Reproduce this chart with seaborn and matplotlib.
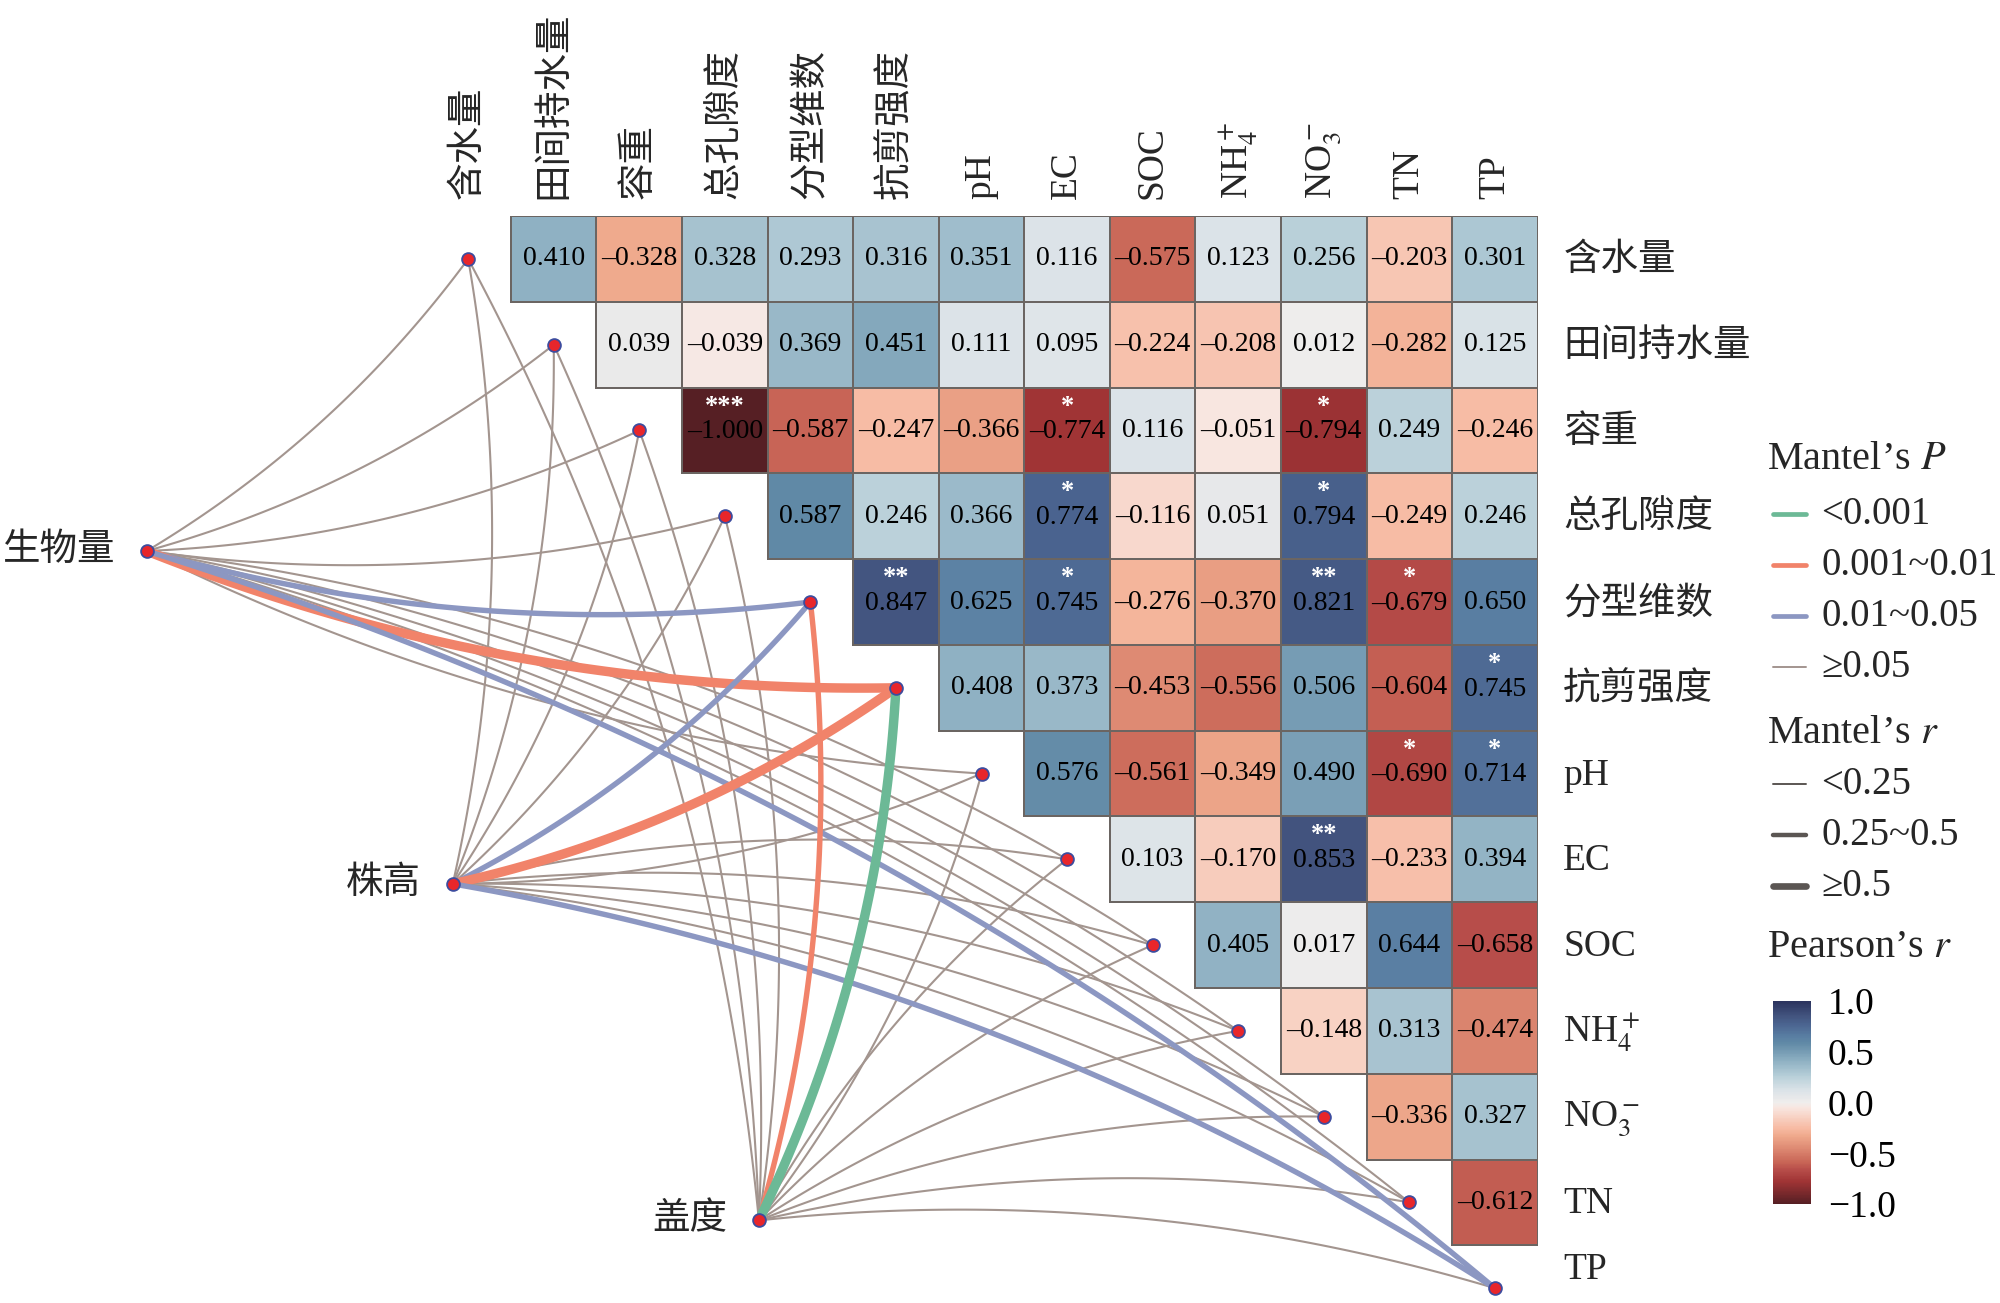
import numpy as np
import pandas as pd
import seaborn as sns
import matplotlib as mpl
import matplotlib.pyplot as plt
from matplotlib.colors import LinearSegmentedColormap, to_rgba
from matplotlib.lines import Line2D

sns.set_theme(style="white")
plt.rcParams['font.family'] = ['Liberation Serif', 'Noto Sans CJK SC', 'DejaVu Sans']
plt.rcParams['mathtext.fontset'] = 'stix'

# ---------------- data ----------------
variables = ['含水量', '田间持水量', '容重', '总孔隙度', '分型维数', '抗剪强度', 'pH', 'EC',
             'SOC', r'NH$_4^+$', r'NO$_3^-$', 'TN', 'TP']

# Pearson's r, upper triangle (row i, columns i+1 ... 12)
r_water = [0.410, -0.328, 0.328, 0.293, 0.316, 0.351, 0.116, -0.575, 0.123, 0.256, -0.203, 0.301]
r_fieldcap = [0.039, -0.039, 0.369, 0.451, 0.111, 0.095, -0.224, -0.208, 0.012, -0.282, 0.125]
r_bulk = [-1.000, -0.587, -0.247, -0.366, -0.774, 0.116, -0.051, -0.794, 0.249, -0.246]
r_poro = [0.587, 0.246, 0.366, 0.774, -0.116, 0.051, 0.794, -0.249, 0.246]
r_fractal = [0.847, 0.625, 0.745, -0.276, -0.370, 0.821, -0.679, 0.650]
r_shear = [0.408, 0.373, -0.453, -0.556, 0.506, -0.604, 0.745]
r_ph = [0.576, -0.561, -0.349, 0.490, -0.690, 0.714]
r_ec = [0.103, -0.170, 0.853, -0.233, 0.394]
r_soc = [0.405, 0.017, 0.644, -0.658]
r_nh4 = [-0.148, 0.313, -0.474]
r_no3 = [-0.336, 0.327]
r_tn = [-0.612]

# significance stars: (row, column, label)
star_cells = [(2, 3, '***'), (2, 7, '*'), (2, 10, '*'),
              (3, 7, '*'), (3, 10, '*'),
              (4, 5, '**'), (4, 7, '*'), (4, 10, '**'), (4, 11, '*'),
              (5, 12, '*'),
              (6, 11, '*'), (6, 12, '*'),
              (7, 10, '**')]

bio_vars = ['生物量', '株高', '盖度']
NS, P3, P2, P1 = '≥0.05', '0.01~0.05', '0.001~0.01', '<0.001'
S, M, L = '<0.25', '0.25~0.5', '≥0.5'
mantel_p_biomass = [NS, NS, NS, NS, P3, P2, NS, NS, NS, NS, NS, NS, P3]
mantel_p_height = [NS, NS, NS, NS, P3, P2, NS, NS, NS, NS, NS, NS, P3]
mantel_p_cover = [NS, NS, NS, NS, P2, P1, NS, NS, NS, NS, NS, NS, NS]
mantel_r_biomass = [S, S, S, S, M, L, S, S, S, S, S, S, M]
mantel_r_height = [S, S, S, S, M, L, S, S, S, S, S, S, M]
mantel_r_cover = [S, S, S, S, M, L, S, S, S, S, S, S, S]

p_levels = [P1, P2, P3, NS]
r_levels = [S, M, L]

# ---------------- styles ----------------
p_colors = {P1: '#6cb996', P2: '#f1836a', P3: '#8c97c2', NS: '#a3958f'}
r_widths = {S: 1.5, M: 3.9, L: 6.8}
r_legend_widths = {S: 1.4, M: 3.2, L: 4.8}
cmap = LinearSegmentedColormap.from_list('pearson', [
    (0.000, '#561f24'), (0.110, '#a03435'), (0.170, '#b84e4a'), (0.205, '#c86556'),
    (0.275, '#de8a73'), (0.335, '#efa98c'), (0.375, '#f7bba4'), (0.475, '#f8e6e0'),
    (0.500, '#f0eeed'), (0.520, '#e9e9ea'), (0.560, '#dbe3e8'), (0.625, '#bad1da'),
    (0.705, '#8fb1c3'), (0.795, '#6089a6'), (0.825, '#5a7fa3'), (0.885, '#4b6591'),
    (0.925, '#435580'), (1.000, '#2c345f')])

n = len(variables)
rows = [r_water, r_fieldcap, r_bulk, r_poro, r_fractal, r_shear, r_ph, r_ec, r_soc,
        r_nh4, r_no3, r_tn]
mat = np.full((n, n), np.nan)
for i, vals in enumerate(rows):
    mat[i, i + 1:] = vals
df = pd.DataFrame(mat, index=variables, columns=variables)
mask = np.isnan(mat)


def fmt_num(v):
    return f'{v:.3f}'.replace('-', '\u2013')


starred = {(i, j): s for i, j, s in star_cells}
annot = np.full((n, n), '', dtype=object)
for i in range(n):
    for j in range(n):
        if not mask[i, j] and (i, j) not in starred:
            annot[i, j] = fmt_num(mat[i, j])

# ---------------- figure ----------------
W_D, H_D = 1568.0, 1021.6
fig = plt.figure(figsize=(20, 13.03), dpi=100)
fig.patch.set_facecolor('white')
ax = fig.add_axes([333.5 / W_D, 1 - 1043.6 / H_D, 872 / W_D, 874.2 / H_D])

sns.heatmap(df, mask=mask, cmap=cmap, vmin=-1, vmax=1, annot=annot, fmt='',
            annot_kws={'fontsize': 20, 'color': 'black'},
            linewidths=1.4, linecolor='#6b6562', cbar=False,
            xticklabels=False, yticklabels=False, square=False, ax=ax)
mesh = ax.collections[0]
ec = np.array([to_rgba('#6b6562')] * (n * n))
ec[mask.ravel()] = (0, 0, 0, 0)
mesh.set_edgecolor(ec)
ax.set_xlim(0, n)
ax.set_ylim(n, 0)
ax.set_axis_off()

for (i, j), s in starred.items():
    ax.text(j + 0.5, i + 0.5 + 0.015, fmt_num(mat[i, j]), color='black', fontsize=20,
            ha='center', va='center')
    ax.text(j + 0.5, i + 0.5 - 0.285, s, color='white', fontsize=19, fontweight='bold',
            ha='center', va='center')

# column labels (top) and row labels (right)
for j, name in enumerate(variables):
    ax.text(j + 0.5, -0.2, name, rotation=90, ha='center', va='bottom', fontsize=27)
for i, name in enumerate(variables):
    ax.text(n + 0.3, min(i + 0.52, n - 0.72), name, ha='left', va='center', fontsize=27)

# node positions (layout, in cell units)
bio_pos = {'生物量': (-3.257, 3.905), '株高': (0.320, 7.786), '盖度': (3.898, 11.71)}
env_pos = [(k + 0.5, k + 0.5) for k in range(n)]

edge_rows = []
for b, plist, rlist in [('生物量', mantel_p_biomass, mantel_r_biomass),
                        ('株高', mantel_p_height, mantel_r_height),
                        ('盖度', mantel_p_cover, mantel_r_cover)]:
    for k in range(n):
        edge_rows.append({'bio': b, 'env': k, 'p': plist[k], 'r': rlist[k]})
edges = pd.DataFrame(edge_rows)
edges['order'] = (edges['p'] != NS).astype(int)
edges = edges.sort_values('order', kind='stable')

t = np.linspace(0, 1, 80)
for _, e in edges.iterrows():
    p0 = np.array(bio_pos[e['bio']])
    p2 = np.array(env_pos[e['env']])
    d = p2 - p0
    perp = np.array([-d[1], d[0]])
    sgn = 1.0 if e['env'] <= 6 else -1.0
    c = (p0 + p2) / 2 + sgn * 0.10 * perp
    pts = ((1 - t) ** 2)[:, None] * p0 + (2 * (1 - t) * t)[:, None] * c + (t ** 2)[:, None] * p2
    ax.plot(pts[:, 0], pts[:, 1], color=p_colors[e['p']], lw=r_widths[e['r']],
            solid_capstyle='round', clip_on=False, zorder=3 + e['order'])

ex = [p[0] for p in env_pos]
ey = [p[1] for p in env_pos]
ax.scatter(ex, ey, s=85, color='#e8262b', edgecolor='#3d4c9e', linewidth=1.3,
           zorder=6, clip_on=False)
ax.scatter([bio_pos[b][0] for b in bio_vars], [bio_pos[b][1] for b in bio_vars], s=85,
           color='#e8262b', edgecolor='#3d4c9e', linewidth=1.3, zorder=6, clip_on=False)
for b in bio_vars:
    ax.text(bio_pos[b][0] - 0.37, bio_pos[b][1], b, ha='right', va='center', fontsize=27)

# ---------------- legends ----------------
def fx(x):
    return x / W_D


def fy(y):
    return 1 - y / H_D


fig.text(fx(1385), fy(360), 'Mantel\u2019s $\\mathit{P}$', fontsize=29, ha='left', va='center')
for lab, yy in zip(p_levels, [403, 443, 483, 523]):
    fig.add_artist(Line2D([fx(1390), fx(1416)], [fy(yy), fy(yy)], transform=fig.transFigure,
                          color=p_colors[lab], lw=(3.4 if lab != NS else 1.4)))
    fig.text(fx(1428), fy(yy), lab, fontsize=28, ha='left', va='center')

fig.text(fx(1385), fy(575), 'Mantel\u2019s $\\mathit{r}$', fontsize=29, ha='left', va='center')
for lab, yy in zip(r_levels, [615, 655, 695]):
    fig.add_artist(Line2D([fx(1390), fx(1416)], [fy(yy), fy(yy)], transform=fig.transFigure,
                          color='#5b5653', lw=r_legend_widths[lab]))
    fig.text(fx(1428), fy(yy), lab, fontsize=28, ha='left', va='center')

fig.text(fx(1385), fy(743), 'Pearson\u2019s $\\mathit{r}$', fontsize=29, ha='left', va='center')
cax = fig.add_axes([fx(1390), fy(944), 30 / W_D, (944 - 785) / H_D])
cb = fig.colorbar(mesh, cax=cax, ticks=[-1, -0.5, 0, 0.5, 1])
cb.outline.set_visible(False)
cb.ax.tick_params(direction='in', length=7, width=1.5, colors='white', labelcolor='black',
                  labelsize=27, pad=12)
cb.set_ticklabels(['\u22121.0', '\u22120.5', '0.0', '0.5', '1.0'])

fig.savefig('out.png', dpi=100)
